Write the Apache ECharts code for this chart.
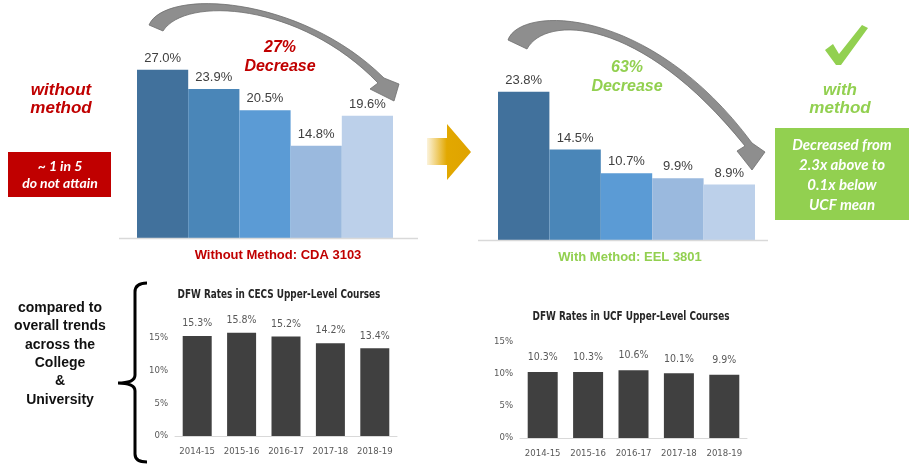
<!DOCTYPE html>
<html>
<head>
<meta charset="utf-8">
<script src="https://cdn.jsdelivr.net/npm/echarts@6/dist/echarts.min.js"></script>
<style>
html,body{margin:0;padding:0;background:#fff;}
#c{width:909px;height:466px;}
</style>
</head>
<body>
<div id="c"></div>
<script>
// ---- data ----
const years = ['2014-15', '2015-16', '2016-17', '2017-18', '2018-19'];
const cdaValues = [27.0, 23.9, 20.5, 14.8, 19.6];   // Without Method: CDA 3103
const eelValues = [23.8, 14.5, 10.7, 9.9, 8.9];     // With Method: EEL 3801
const cecsValues = [15.3, 15.8, 15.2, 14.2, 13.4];  // DFW Rates in CECS Upper-Level Courses
const ucfValues = [10.3, 10.3, 10.6, 10.1, 9.9];    // DFW Rates in UCF Upper-Level Courses

// ---- styles ----
const blues = ['#41719c', '#4a86b8', '#5b9bd5', '#9ab9de', '#bcd0ea'];
const RED = '#c00000', GREEN = '#92d050';
const NARROW = '"DejaVu Sans Condensed", "Liberation Sans Narrow", sans-serif';
const ARIAL = '"Liberation Sans", Arial, sans-serif';
const CAL = 'Lato, "Open Sans", sans-serif';

// decorative shapes
function reg(name, d) {
  echarts.graphic.registerShape(name, echarts.graphic.extendPath(d, {}));
}
reg('arrowLeftCurve', 'M149 25 C165 -12 300 -5 384 78 L399 84 L394 101 L370 89 L378 83 C300 2 185 -4 163 31 Z');
reg('arrowRightCurve', 'M508 40 C520 5 650 5 752 143 L765 152 L752 170 L737 151 L745 146 C640 15 545 15 527 49 Z');
reg('goldArrow', 'M427 138 L447 138 L447 124 L471 152 L447 180 L447 165 L427 165 Z');
reg('checkMark', 'M825 50 L833 44 L839 54 L862 25 L868 28 L841 65 L836 65 Z');
reg('brace', 'M147 283 Q135 283 135 292 L135 375 Q135 383 118 383 Q135 383 135 391 L135 454 Q135 462 147 462');

const chart = echarts.init(document.getElementById('c'));

function topSeries(vals, idx) {
  return {
    type: 'bar', xAxisIndex: idx, yAxisIndex: idx,
    barCategoryGap: '0%',
    data: vals.map((v, i) => ({ value: v, itemStyle: { color: blues[i] } })),
    label: { show: true, position: 'top', distance: 5, color: '#404040',
      fontFamily: ARIAL, fontSize: 13, formatter: p => p.value.toFixed(1) + '%' },
    silent: true
  };
}
function bottomSeries(vals, idx, bw, dist) {
  return {
    type: 'bar', xAxisIndex: idx, yAxisIndex: idx, barWidth: bw,
    data: vals, itemStyle: { color: '#404040' },
    label: { show: true, position: 'top', distance: dist, color: '#595959',
      fontFamily: NARROW, fontSize: 10.5, formatter: p => p.value.toFixed(1) + '%' },
    silent: true
  };
}
const hiddenY = { type: 'value', min: 0, max: 30, show: false };
function bottomY(idx) {
  return { type: 'value', gridIndex: idx, min: 0, max: 20, interval: 5,
    splitLine: { show: false }, axisLine: { show: false }, axisTick: { show: false },
    axisLabel: { margin: 7, color: '#595959', fontFamily: NARROW, fontSize: 9.5,
      formatter: v => (v === 20 ? '' : v + '%') } };
}
function bottomX(idx) {
  return { type: 'category', gridIndex: idx, data: years,
    axisLine: { lineStyle: { color: '#d9d9d9', width: 1 } }, axisTick: { show: false },
    axisLabel: { interval: 0, margin: 11, color: '#595959', fontFamily: NARROW, fontSize: 9.5 } };
}

function txt(x, y, text, opts, extra) {
  return Object.assign({ type: 'text', x: x, y: y, z: 100,
    style: Object.assign({ text: text, align: 'center', verticalAlign: 'middle' }, opts) }, extra || {});
}

const graphics = [
  { type: 'line', z: 5, shape: { x1: 119, y1: 238.5, x2: 418, y2: 238.5 }, style: { stroke: '#d9d9d9', lineWidth: 1.5 } },
  { type: 'line', z: 5, shape: { x1: 478, y1: 240.5, x2: 768, y2: 240.5 }, style: { stroke: '#d9d9d9', lineWidth: 1.5 } },
  { type: 'arrowLeftCurve', z: 90, style: { fill: '#8e8e8e', stroke: '#6f6f6f', lineWidth: 0.8 } },
  { type: 'arrowRightCurve', z: 90, style: { fill: '#8e8e8e', stroke: '#6f6f6f', lineWidth: 0.8 } },
  { type: 'goldArrow', z: 90,
    style: { fill: new echarts.graphic.LinearGradient(0, 0, 1, 0, [
      { offset: 0, color: 'rgba(230,172,10,0.15)' }, { offset: 0.45, color: '#e2a800' }, { offset: 1, color: '#dfa300' }]) } },
  { type: 'checkMark', z: 90, style: { fill: GREEN } },
  { type: 'rect', z: 80, shape: { x: 8, y: 152, width: 103, height: 45 }, style: { fill: RED } },
  txt(60, 175, '~ 1 in 5\ndo not attain', { fill: '#fff', font: 'italic bold 14px ' + CAL, lineHeight: 17 }),
  { type: 'rect', z: 80, shape: { x: 775, y: 128, width: 134, height: 92 }, style: { fill: GREEN } },
  txt(842, 175, 'Decreased from\n2.3x above to\n0.1x below\nUCF mean', { fill: '#fff', font: 'italic bold 15px ' + CAL, lineHeight: 20 }),
  txt(61, 99, 'without\nmethod', { fill: RED, font: 'italic bold 17px ' + ARIAL, lineHeight: 18 }),
  txt(840, 99, 'with\nmethod', { fill: GREEN, font: 'italic bold 17px ' + ARIAL, lineHeight: 18 }),
  txt(280, 57, '27%\nDecrease', { fill: RED, font: 'italic bold 16px ' + ARIAL, lineHeight: 19 }),
  txt(627, 77, '63%\nDecrease', { fill: GREEN, font: 'italic bold 16px ' + ARIAL, lineHeight: 19 }),
  txt(278, 255, 'Without Method: CDA 3103', { fill: RED, font: 'bold 13px ' + ARIAL }),
  txt(630, 257, 'With Method: EEL 3801', { fill: GREEN, font: 'bold 13px ' + ARIAL }),
  txt(60, 354, 'compared to\noverall trends\nacross the\nCollege\n&\nUniversity', { fill: '#111', font: 'bold 14px ' + ARIAL, lineHeight: 18.4 }),
  { type: 'brace', z: 90, style: { fill: 'none', stroke: '#000', lineWidth: 3 } },
  // chart titles (condensed look)
  txt(279, 295, 'DFW Rates in CECS Upper-Level Courses', { fill: '#262626', font: 'bold 13px ' + NARROW }, { scaleX: 0.76 }),
  txt(631, 317, 'DFW Rates in UCF Upper-Level Courses', { fill: '#262626', font: 'bold 13px ' + NARROW }, { scaleX: 0.76 })
];

chart.setOption({
  animation: false,
  backgroundColor: '#fff',
  grid: [
    { left: 137, top: 51, width: 256, height: 187 },
    { left: 498, top: 53, width: 257, height: 187 },
    { left: 175, top: 305.2, width: 222, height: 130.8 },
    { left: 520, top: 310, width: 227, height: 128 }
  ],
  xAxis: [
    { type: 'category', gridIndex: 0, data: years, show: false },
    { type: 'category', gridIndex: 1, data: years, show: false },
    bottomX(2), bottomX(3)
  ],
  yAxis: [
    Object.assign({ gridIndex: 0 }, hiddenY),
    Object.assign({ gridIndex: 1 }, hiddenY),
    bottomY(2), bottomY(3)
  ],
  series: [
    topSeries(cdaValues, 0),
    topSeries(eelValues, 1),
    bottomSeries(cecsValues, 2, 29, 7),
    bottomSeries(ucfValues, 3, 30, 9)
  ],
  graphic: graphics
});
</script>
</body>
</html>
